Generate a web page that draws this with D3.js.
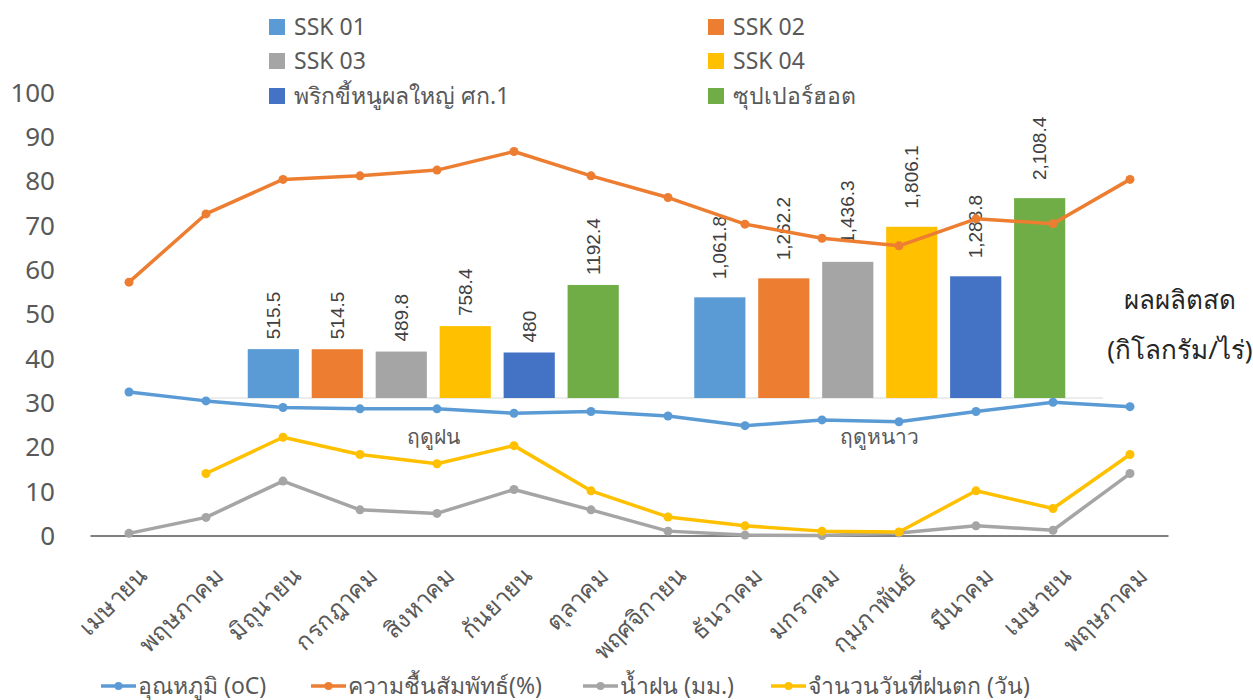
<!DOCTYPE html>
<html lang="th">
<head>
  <meta charset="UTF-8">
  <title>chart</title>
  <style>
    body { margin: 0; background: #fff; }
    text { font-family: Tahoma, "Noto Sans", sans-serif; }
  </style>
</head>
<body>
  <svg id="chart" width="1253" height="700"></svg>
<script src="https://cdn.jsdelivr.net/npm/d3@7"></script>
<script>
  // monthly weather data
  const months = ["เมษายน", "พฤษภาคม", "มิถุนายน", "กรกฎาคม", "สิงหาคม", "กันยายน", "ตุลาคม",
                  "พฤศจิกายน", "ธันวาคม", "มกราคม", "กุมภาพันธ์", "มีนาคม", "เมษายน", "พฤษภาคม"]
  const temperature = [32.5, 30.5, 29.0, 28.7, 28.7, 27.7, 28.1, 27.1, 24.9, 26.2, 25.8, 28.1, 30.2, 29.2]
  const humidity = [57.3, 72.7, 80.5, 81.3, 82.6, 86.8, 81.3, 76.4, 70.4, 67.2, 65.5, 71.6, 70.5, 80.5]
  const rainfall = [0.6, 4.2, 12.4, 5.9, 5.1, 10.5, 5.9, 1.1, 0.2, 0.1, 0.7, 2.3, 1.3, 14.1]
  const rainDays = [null, 14.1, 22.3, 18.4, 16.3, 20.4, 10.2, 4.3, 2.3, 1.1, 0.9, 10.2, 6.2, 18.4]
  const lineNames = ["อุณหภูมิ (oC)", "ความชื้นสัมพัทธ์(%)", "น้ำฝน (มม.)", "จำนวนวันที่ฝนตก (วัน)"]
  const lineColors = ["#5B9BD5", "#ED7D31", "#A5A5A5", "#FFC000"]
  const yTicks = [0, 10, 20, 30, 40, 50, 60, 70, 80, 90, 100]

  // yield by season and variety
  const seasons = ["ฤดูฝน", "ฤดูหนาว"]
  const varieties = ["SSK 01", "SSK 02", "SSK 03", "SSK 04", "พริกขี้หนูผลใหญ่ ศก.1", "ซุปเปอร์ฮอต"]
  const barColors = ["#5B9BD5", "#ED7D31", "#A5A5A5", "#FFC000", "#4472C4", "#70AD47"]
  const rainyYield = [515.5, 514.5, 489.8, 758.4, 480, 1192.4]
  const winterYield = [1061.8, 1262.2, 1436.3, 1806.1, 1283.8, 2108.4]

  let svg = d3.select("#chart")

  let x = d3.scaleBand().domain(d3.range(months.length)).range([90.5, 1168.5])
  let y = d3.scaleLinear().domain([0, 100]).range([536, 93])

  let xs = d3.scaleBand().domain(seasons).range([210, 1103])
  let xv = d3.scaleBand().domain(varieties).range([0, xs.bandwidth()]).paddingInner(0.2).paddingOuter(0.59)
  let yb = d3.scaleLinear().domain([0, 2500]).range([398, 161])

  // y axis
  let yAxis = svg.append("g")
                 .attr("transform", "translate(60,0)")
                 .call(d3.axisLeft(y).tickValues(yTicks).tickSize(0).tickPadding(5))
  yAxis.select(".domain").remove()
  yAxis.selectAll("text").attr("font-size", 26).attr("fill", "#595959")
       .style("font-family", "Tahoma, 'Noto Sans', sans-serif")

  // bars (season overlay)
  let barData = []
  seasons.forEach((s, i) => {
    let vals = i == 0 ? rainyYield : winterYield
    vals.forEach((v, j) => barData.push({season: s, variety: varieties[j], value: v, idx: j, si: i}))
  })

  svg.append("line")
     .attr("x1", xs.range()[0]).attr("x2", xs.range()[1])
     .attr("y1", yb(0)).attr("y2", yb(0))
     .attr("stroke", "#D9D9D9").attr("stroke-width", 1)

  svg.append("g").selectAll("rect")
     .data(barData).enter()
     .append("rect")
     .attr("x", d => xs(d.season) + xv(d.variety))
     .attr("width", xv.bandwidth())
     .attr("y", d => yb(d.value))
     .attr("height", d => yb(0) - yb(d.value))
     .attr("fill", d => barColors[d.idx])

  let fmtComma = d3.format(",.1f")
  svg.append("g").selectAll("text")
     .data(barData).enter()
     .append("text")
     .attr("transform", d => `translate(${xs(d.season) + xv(d.variety) + xv.bandwidth() / 2},${yb(d.value) - (d.si == 0 ? 10 : 18)}) rotate(-90)`)
     .attr("dy", "0.35em")
     .attr("font-size", 19)
     .attr("fill", "#404040")
     .style("font-family", "Arial, 'Liberation Sans', sans-serif")
     .text(d => d.si == 0 ? String(d.value) : fmtComma(d.value))

  svg.append("g").selectAll("text")
     .data(seasons).enter()
     .append("text")
     .attr("x", d => xs(d) + xs.bandwidth() / 2)
     .attr("y", 437)
     .attr("dy", "0.35em")
     .attr("text-anchor", "middle")
     .attr("font-size", 21)
     .attr("fill", "#595959")
     .text(d => d)

  // x axis
  svg.append("line")
     .attr("x1", x.range()[0]).attr("x2", x.range()[1])
     .attr("y1", y(0)).attr("y2", y(0))
     .attr("stroke", "#000").attr("stroke-width", 1.2)

  svg.append("g").selectAll("text")
     .data(months).enter()
     .append("text")
     .attr("transform", (d, i) => `translate(${x(i) + x.bandwidth() / 2 + 19},${y(0) + 42}) rotate(-45)`)
     .attr("text-anchor", "end")
     .attr("font-size", 24)
     .attr("fill", "#595959")
     .text(d => d)

  // lines
  let series = [temperature, humidity, rainfall, rainDays]
  let line = d3.line()
               .defined(d => d != null)
               .x((d, i) => x(i) + x.bandwidth() / 2)
               .y(d => y(d))

  series.forEach((s, k) => {
    let g = svg.append("g")
    g.append("path")
     .attr("d", line(s))
     .attr("fill", "none")
     .attr("stroke", lineColors[k])
     .attr("stroke-width", 3.5)
     .attr("stroke-linejoin", "round")
    g.selectAll("circle")
     .data(s.map((v, i) => ({v, i})).filter(d => d.v != null))
     .enter()
     .append("circle")
     .attr("cx", d => x(d.i) + x.bandwidth() / 2)
     .attr("cy", d => y(d.v))
     .attr("r", 4.5)
     .attr("fill", lineColors[k])
  })

  // top legend (bars)
  let legendPos = [[269, 27], [708, 27], [269, 61], [708, 61], [269, 96], [708, 96]]
  let lg = svg.append("g").selectAll("g")
              .data(varieties).enter()
              .append("g")
              .attr("transform", (d, i) => `translate(${legendPos[i][0]},${legendPos[i][1]})`)
  lg.append("rect").attr("x", 0).attr("y", -8).attr("width", 16).attr("height", 16)
    .attr("fill", (d, i) => barColors[i])
  lg.append("text").attr("x", 25).attr("dy", "0.35em")
    .attr("font-size", 23).attr("fill", "#595959").text(d => d)

  // bottom legend (lines)
  let bottomX = [101, 311, 583, 771]
  let bl = svg.append("g").selectAll("g")
              .data(lineNames).enter()
              .append("g")
              .attr("transform", (d, i) => `translate(${bottomX[i]},686)`)
  bl.append("line").attr("x1", 0).attr("x2", 35).attr("y1", 0).attr("y2", 0)
    .attr("stroke", (d, i) => lineColors[i]).attr("stroke-width", 3.5)
  bl.append("circle").attr("cx", 17.5).attr("cy", 0).attr("r", 4)
    .attr("fill", (d, i) => lineColors[i])
  bl.append("text").attr("x", 37).attr("dy", "0.35em")
    .attr("font-size", 23).attr("fill", "#595959").text(d => d)

  // right side title for yield
  svg.append("text")
     .attr("x", 1180).attr("y", 300).attr("dy", "0.35em")
     .attr("text-anchor", "middle").attr("font-size", 26).attr("fill", "#262626")
     .text("ผลผลิตสด")
  svg.append("text")
     .attr("x", 1180).attr("y", 350).attr("dy", "0.35em")
     .attr("text-anchor", "middle").attr("font-size", 26).attr("fill", "#262626")
     .text("(กิโลกรัม/ไร่)")
</script>
</body>
</html>
